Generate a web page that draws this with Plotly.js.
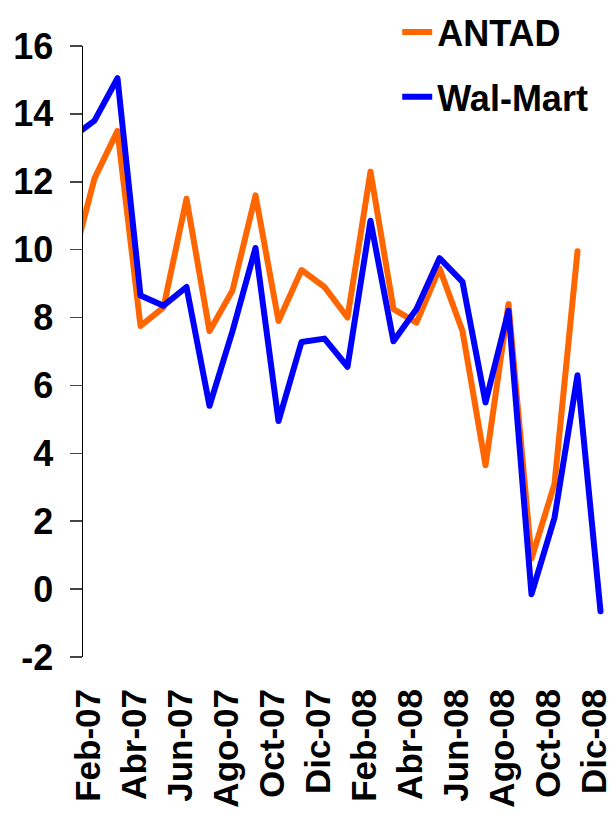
<!DOCTYPE html>
<html>
<head>
<meta charset="utf-8">
<script src="https://cdn.plot.ly/plotly-3.0.1.min.js"></script>
<style>
html,body{margin:0;padding:0;background:#fff;}
#chart{width:614px;height:814px;}
.scatterlayer .js-line{stroke-linejoin:round;stroke-linecap:round;}
</style>
</head>
<body>
<div id="chart"></div>
<script>
// Months (Spanish abbreviations)
const months = ['Ene-07','Feb-07','Mar-07','Abr-07','May-07','Jun-07','Jul-07','Ago-07','Sep-07','Oct-07','Nov-07','Dic-07',
                'Ene-08','Feb-08','Mar-08','Abr-08','May-08','Jun-08','Jul-08','Ago-08','Sep-08','Oct-08','Nov-08','Dic-08'];
const antad   = [9.5, 12.1, 13.5, 7.75, 8.3, 11.5, 7.6, 8.8, 11.6, 7.9, 9.4, 8.9,
                 8.0, 12.3, 8.25, 7.85, 9.45, 7.6, 3.65, 8.4, 0.9, 3.1, 9.95, null];
const walmart = [13.3, 13.8, 15.05, 8.65, 8.35, 8.9, 5.4, 7.6, 10.05, 4.95, 7.28, 7.38,
                 6.55, 10.85, 7.3, 8.25, 9.75, 9.05, 5.5, 8.2, -0.15, 2.1, 6.3, -0.65];
const tickLabels = ['Feb-07','Abr-07','Jun-07','Ago-07','Oct-07','Dic-07','Feb-08','Abr-08','Jun-08','Ago-08','Oct-08','Dic-08'];
const yTicks = [-2, 0, 2, 4, 6, 8, 10, 12, 14, 16];

const FONT = 'Liberation Sans, Arial, sans-serif';
const FS = 36;
const boundaryTicks = tickLabels.map(l => months.indexOf(l) - 0.5);   // tick marks between label pairs

const traces = [
  {x: months, y: antad, name: 'ANTAD', type: 'scatter', mode: 'lines',
   line: {color: '#FF6600', width: 6}, legendgroup: 'a'},
  {x: months, y: walmart, name: 'Wal-Mart', type: 'scatter', mode: 'lines',
   line: {color: '#0000FF', width: 6}, legendgroup: 'b'}
];

const layout = {
  width: 614, height: 814,
  margin: {l: 83, r: 2, t: 41, b: 157, pad: 0},
  paper_bgcolor: '#fff', plot_bgcolor: '#fff',
  font: {family: FONT, color: '#000'},
  showlegend: true,
  legend: {x: 0.594, y: 1.072, xanchor: 'left', yanchor: 'top',
           font: {family: FONT, size: FS, weight: 'bold', color: '#000'},
           traceorder: 'grouped', tracegroupgap: 15, bgcolor: 'rgba(0,0,0,0)'},
  xaxis: {
    type: 'category', categoryorder: 'array', categoryarray: months,
    range: [0.5, 23.5], anchor: 'y',
    showline: false, showgrid: false, zeroline: false, ticks: '',
    tickmode: 'array', tickvals: tickLabels, ticktext: tickLabels,
    tickangle: -90, ticklabelstandoff: 24, ticklabelshift: -6,
    tickfont: {family: FONT, size: 35, weight: 'bold', color: '#000'}
  },
  xaxis2: {
    overlaying: 'x', anchor: 'free', position: 2 / 18, type: 'linear',
    range: [0.5, 23.5], showline: true, linecolor: '#000', linewidth: 1.5,
    showgrid: false, zeroline: false, showticklabels: false,
    ticks: 'outside', ticklen: 12, tickwidth: 1.5, tickcolor: '#000',
    tickmode: 'array', tickvals: boundaryTicks
  },
  yaxis: {
    range: [-2, 16], tickmode: 'array', tickvals: yTicks, ticktext: yTicks.map(String),
    showline: true, linecolor: '#000', linewidth: 1.5,
    ticks: 'outside', ticklen: 12, tickwidth: 1.5, tickcolor: '#444',
    showgrid: false, zeroline: false, ticklabelstandoff: 9,
    tickfont: {family: FONT, size: FS, weight: 'bold', color: '#000'}
  }
};

Plotly.newPlot('chart', traces, layout, {staticPlot: true, displayModeBar: false});
</script>
</body>
</html>
